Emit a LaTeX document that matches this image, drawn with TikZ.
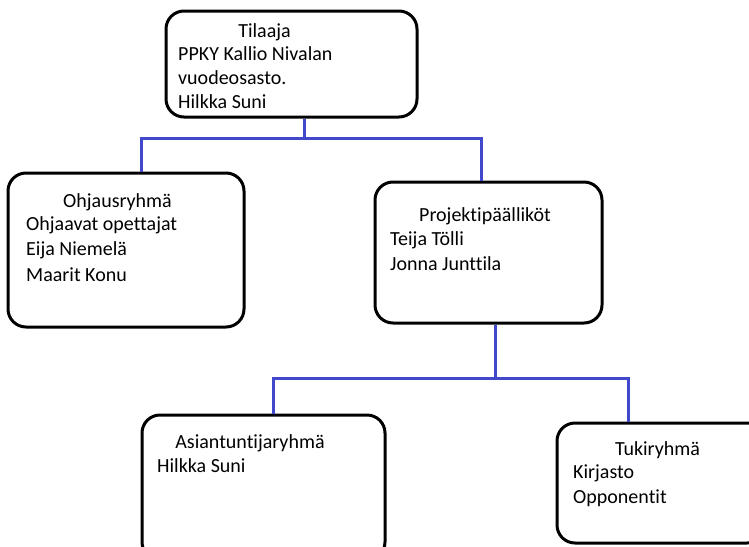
\documentclass[tikz,border=0pt]{standalone}
\usepackage{fontspec}
\setmainfont[Ligatures={NoCommon}]{Carlito}
\definecolor{conn}{RGB}{65,72,204}
\begin{document}
\begin{tikzpicture}[x=1pt,y=-1pt,
  box/.style={draw=black,line width=3pt,rounded corners=18pt,inner sep=0pt,fill=white},
  txt/.style={font=\fontsize{20}{24}\selectfont,inner sep=0pt,anchor=base west},
  head/.style={font=\fontsize{20}{24}\selectfont,inner sep=0pt,anchor=base},
  link/.style={draw=conn,line width=3pt}]
\useasboundingbox (0,0) rectangle (749,546);
\clip (0,0) rectangle (749,546);
\fill[white] (0,0) rectangle (749,546);
% boxes
\node[box,minimum width=251pt,minimum height=106pt] (T) at (291.5,64) {};
\node[box,minimum width=236pt,minimum height=154pt] (O) at (126,250) {};
\node[box,minimum width=227pt,minimum height=141pt] (P) at (488.5,252.5) {};
\node[box,minimum width=243pt,minimum height=145pt] (A) at (263.5,487.5) {};
\node[box,minimum width=208pt,minimum height=120pt] (K) at (661,483) {};
% connector junctions
\coordinate (tj) at (304,138);
\coordinate (oj) at (141,138);
\coordinate (pj) at (481,138);
\coordinate (bj) at (495,378);
\coordinate (aj) at (273,378);
\coordinate (kj) at (628,378);
\draw[link] (tj |- T.south) -- (tj);
\draw[link] (oj |- O.north) -- (oj) -- (pj) -- (pj |- P.north);
\draw[link] (bj |- P.south) -- (bj);
\draw[link] (aj |- A.north) -- (aj) -- (kj) -- (kj |- K.north);
% texts
\node[head] (T0) at (264.5,37.5) {Tilaaja};
\node[txt] (T1) at (178,60.5) {PPKY Kallio Nivalan};
\node[txt] (T2) at (178,84.5) {vuodeosasto.};
\node[txt] (T3) at (178,108.5) {Hilkka Suni};
\node[head] (O0) at (117.5,207.5) {Ohjausryhmä};
\node[txt] (O1) at (26,230.5) {Ohjaavat opettajat};
\node[txt] (O2) at (26,255.5) {Eija Niemelä};
\node[txt] (O3) at (26,281.5) {Maarit Konu};
\node[head] (P0) at (485,221.5) {Projektipäälliköt};
\node[txt] (P1) at (390,245.5) {Teija Tölli};
\node[txt] (P2) at (390,270.5) {Jonna Junttila};
\node[head] (A0) at (250,448.5) {Asiantuntijaryhmä};
\node[txt] (A1) at (157,472.5) {Hilkka Suni};
\node[head] (K0) at (657.5,455.5) {Tukiryhmä};
\node[txt] (K1) at (573,478.5) {Kirjasto};
\node[txt] (K2) at (573,503.5) {Opponentit};
\end{tikzpicture}
\end{document}
